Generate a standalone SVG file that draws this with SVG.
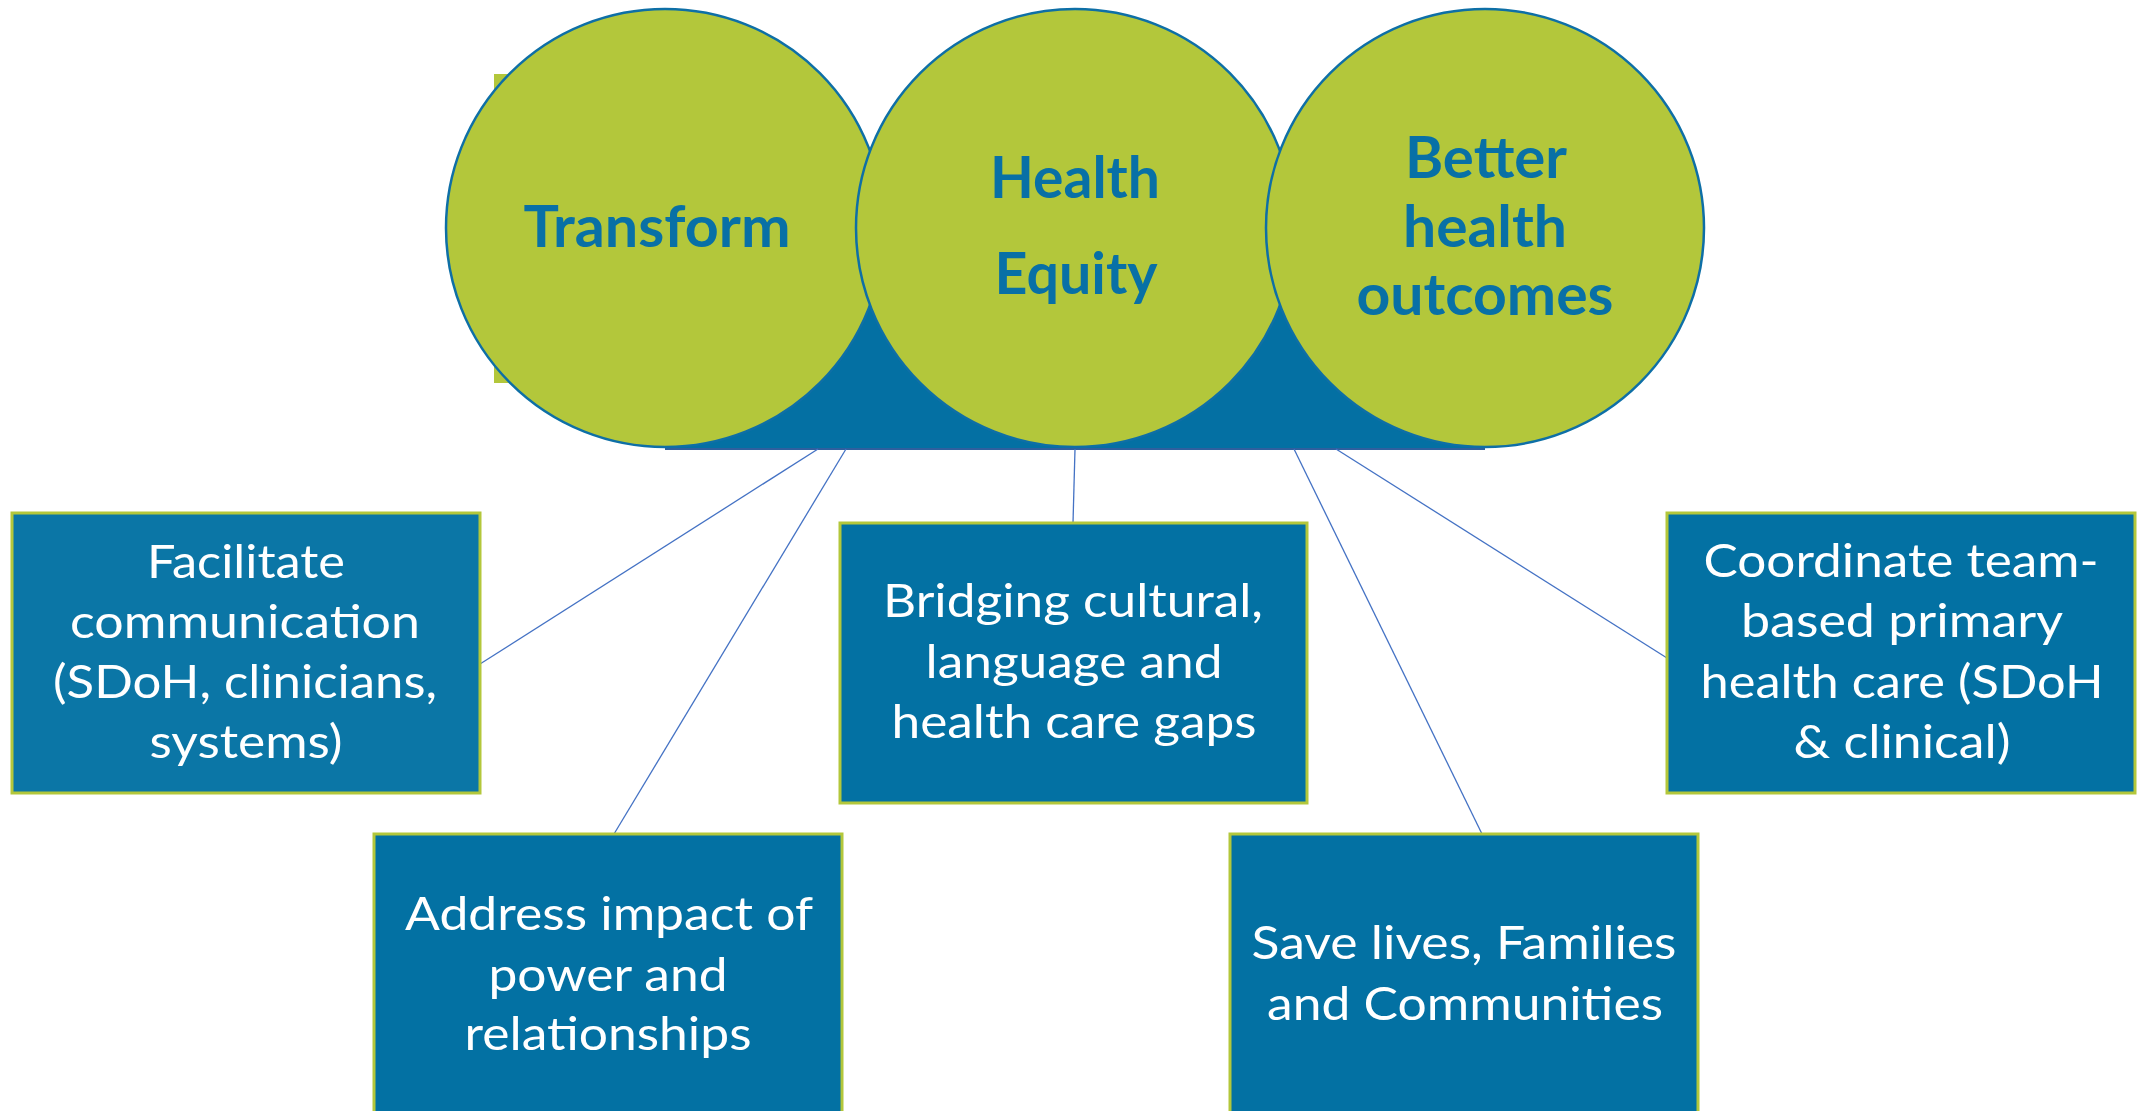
<svg xmlns="http://www.w3.org/2000/svg" width="2144" height="1111" viewBox="0 0 2144 1111">
<style>
.circ{fill:#B3C73B;stroke:#0E6FA6;stroke-width:2.5}
.ct{font-family:Lato,"Liberation Sans",sans-serif;font-weight:700;font-size:57px;fill:#0870A6;text-anchor:middle}
.box{fill:#0371A3;stroke:#B3C73B;stroke-width:3}
.bt{font-family:Lato,"Liberation Sans",sans-serif;font-size:47px;fill:#FFFFFF;text-anchor:middle}
.conn{stroke:#4472C4;stroke-width:1.3;fill:none}
</style>
<rect width="2144" height="1111" fill="#FFFFFF"/>
<g id="base">
<rect x="665" y="228" width="820" height="221" fill="#0470A3"/>
<line x1="665" y1="449" x2="1485" y2="449" stroke="#2F5F9E" stroke-width="2"/>
</g>
<g id="connectors">
<line class="conn" x1="818" y1="449" x2="480" y2="664"/>
<line class="conn" x1="846" y1="449" x2="614" y2="834"/>
<line class="conn" x1="1075" y1="449" x2="1073" y2="523"/>
<line class="conn" x1="1294" y1="449" x2="1482" y2="834"/>
<line class="conn" x1="1336" y1="449" x2="1667" y2="658"/>
</g>
<g id="node-transform">
<rect x="494" y="74" width="171" height="309" fill="#B3C73B"/>
<circle class="circ" cx="665" cy="228" r="219"/>
<text class="ct" x="657" y="247" textLength="267" lengthAdjust="spacingAndGlyphs">Transform</text>
</g>
<g id="node-health-equity">
<circle class="circ" cx="1075" cy="228" r="219"/>
<text class="ct" x="1075" y="198" textLength="170" lengthAdjust="spacingAndGlyphs">Health</text>
<text class="ct" x="1076" y="294" textLength="163" lengthAdjust="spacingAndGlyphs">Equity</text>
</g>
<g id="node-better-outcomes">
<circle class="circ" cx="1485" cy="228" r="219"/>
<text class="ct" x="1486" y="178" textLength="162" lengthAdjust="spacingAndGlyphs">Better</text>
<text class="ct" x="1485" y="247" textLength="164" lengthAdjust="spacingAndGlyphs">health</text>
<text class="ct" x="1485" y="315" textLength="257" lengthAdjust="spacingAndGlyphs">outcomes</text>
</g>
<g id="node-facilitate">
<rect class="box" x="12" y="513" width="468" height="280" style="fill:#0B76A6"/>
<text class="bt" x="246" y="578" textLength="198" lengthAdjust="spacingAndGlyphs">Facilitate</text>
<text class="bt" x="245" y="638" textLength="350" lengthAdjust="spacingAndGlyphs">communication</text>
<text class="bt" x="245" y="698" textLength="384" lengthAdjust="spacingAndGlyphs">(SDoH, clinicians,</text>
<text class="bt" x="246" y="758" textLength="193" lengthAdjust="spacingAndGlyphs">systems)</text>
</g>
<g id="node-address">
<rect class="box" x="374" y="834" width="468" height="290"/>
<text class="bt" x="609" y="930" textLength="408" lengthAdjust="spacingAndGlyphs">Address impact of</text>
<text class="bt" x="608" y="991" textLength="239" lengthAdjust="spacingAndGlyphs">power and</text>
<text class="bt" x="608" y="1050" textLength="287" lengthAdjust="spacingAndGlyphs">relationships</text>
</g>
<g id="node-bridging">
<rect class="box" x="840" y="523" width="467" height="280"/>
<text class="bt" x="1073" y="617" textLength="380" lengthAdjust="spacingAndGlyphs">Bridging cultural,</text>
<text class="bt" x="1074" y="678" textLength="297" lengthAdjust="spacingAndGlyphs">language and</text>
<text class="bt" x="1074" y="738" textLength="365" lengthAdjust="spacingAndGlyphs">health care gaps</text>
</g>
<g id="node-save-lives">
<rect class="box" x="1230" y="834" width="468" height="290"/>
<text class="bt" x="1464" y="959" textLength="425" lengthAdjust="spacingAndGlyphs">Save lives, Families</text>
<text class="bt" x="1465" y="1020" textLength="396" lengthAdjust="spacingAndGlyphs">and Communities</text>
</g>
<g id="node-coordinate">
<rect class="box" x="1667" y="513" width="468" height="280"/>
<text class="bt" x="1901" y="577" textLength="395" lengthAdjust="spacingAndGlyphs">Coordinate team-</text>
<text class="bt" x="1902" y="637" textLength="322" lengthAdjust="spacingAndGlyphs">based primary</text>
<text class="bt" x="1902" y="698" textLength="403" lengthAdjust="spacingAndGlyphs">health care (SDoH</text>
<text class="bt" x="1902" y="758" textLength="217" lengthAdjust="spacingAndGlyphs">&amp; clinical)</text>
</g>
</svg>
